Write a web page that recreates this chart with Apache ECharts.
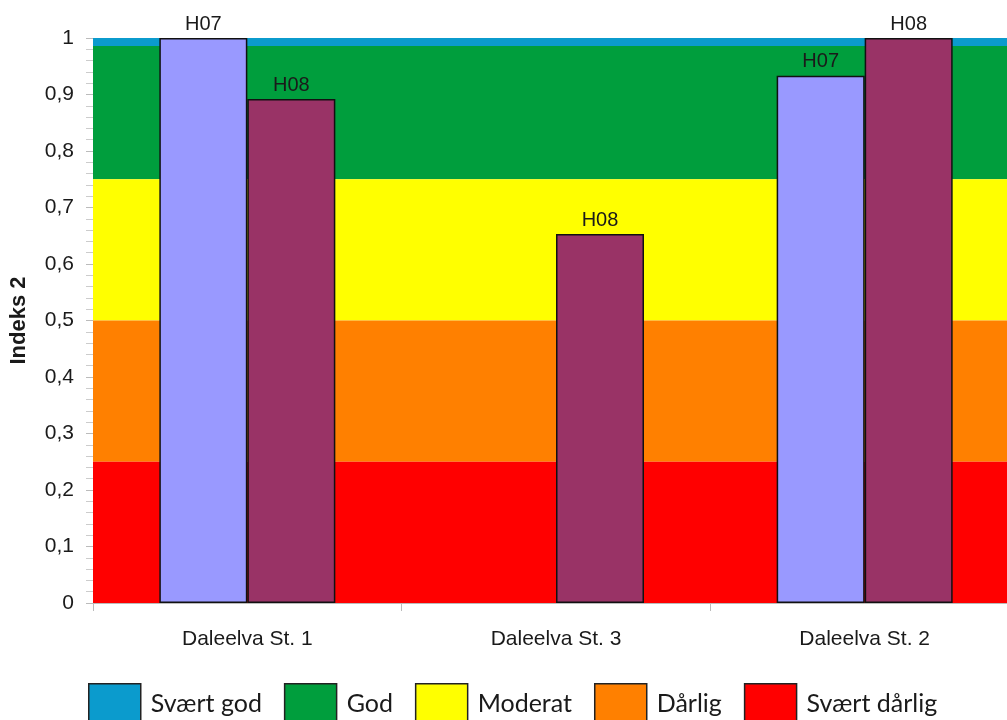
<!DOCTYPE html>
<html>
<head>
<meta charset="utf-8">
<script src="https://cdn.jsdelivr.net/npm/echarts@6/dist/echarts.min.js"></script>
<style>
html,body{margin:0;padding:0;background:#fff;overflow:hidden;}
#chart{width:1020px;height:720px;}
</style>
</head>
<body>
<div id="chart"></div>
<script>
// Data
const categories = ['Daleelva St. 1', 'Daleelva St. 3', 'Daleelva St. 2'];
const seriesNames = ['H07', 'H08'];
const h07Values = [1.0, null, 0.933];
const h08Values = [0.892, 0.653, 1.0];
const bandNames = ['Svært god', 'God', 'Moderat', 'Dårlig', 'Svært dårlig'];
const bandLower = [0.986, 0.75, 0.5, 0.25, 0];
const bandUpper = [1.0, 0.986, 0.75, 0.5, 0.25];
const yTickValues = [0, 0.1, 0.2, 0.3, 0.4, 0.5, 0.6, 0.7, 0.8, 0.9, 1];

// Styles
const bandColors = ['#0b9bcd', '#009e3d', '#ffff00', '#ff8000', '#ff0000'];
const barColors = ['#9999ff', '#993366'];
const chartFont = 'Liberation Sans';

const chart = echarts.init(document.getElementById('chart'), null, {renderer: 'canvas'});

const bandSeries = bandNames.map((name, i) => ({
  name: name,
  type: 'line',
  data: [],
  silent: true,
  z: 0,
  itemStyle: {color: bandColors[i]},
  markArea: {
    silent: true,
    itemStyle: {color: bandColors[i], opacity: 1},
    label: {show: false},
    data: [[{yAxis: bandLower[i]}, {yAxis: bandUpper[i]}]]
  }
}));

const barSeries = [h07Values, h08Values].map((vals, i) => ({
  name: seriesNames[i],
  type: 'bar',
  data: vals,
  barWidth: 88,
  barGap: '0%',
  z: 5,
  itemStyle: {color: barColors[i], borderColor: '#111', borderWidth: 1.5},
  label: {
    show: true,
    position: 'top',
    distance: 4,
    formatter: () => seriesNames[i],
    fontFamily: chartFont,
    fontSize: 20,
    color: '#1a1a1a'
  }
}));

chart.setOption({
  animation: false,
  backgroundColor: '#ffffff',
  textStyle: {fontFamily: chartFont},
  grid: {left: 92, top: 38, width: 927, height: 565, containLabel: false},
  legend: {
    left: 88,
    top: 683,
    padding: 0,
    itemWidth: 52,
    itemHeight: 40,
    itemGap: 22,
    selectedMode: false,
    textStyle: {fontFamily: 'Lato', fontSize: 25, color: '#1a1a1a', padding: [0, 0, 0, 5]},
    data: bandNames.map((n, i) => ({
      name: n,
      icon: 'rect',
      itemStyle: {color: bandColors[i], borderColor: '#222', borderWidth: 1.5}
    }))
  },
  xAxis: {
    type: 'category',
    data: categories,
    axisLine: {show: true, lineStyle: {color: '#bbbbbb', width: 1}},
    axisTick: {show: true, alignWithLabel: false, length: 8, lineStyle: {color: '#bbbbbb'}},
    axisLabel: {fontFamily: chartFont, fontSize: 21, color: '#1a1a1a', margin: 26},
    splitLine: {show: false},
    z: 10
  },
  yAxis: {
    type: 'value',
    min: 0,
    max: 1,
    interval: 0.1,
    name: 'Indeks 2',
    nameLocation: 'middle',
    nameRotate: 90,
    nameGap: 63,
    nameTextStyle: {fontFamily: chartFont, fontSize: 22, fontWeight: 'bold', color: '#1a1a1a'},
    axisLine: {show: false},
    axisTick: {show: true, inside: false, length: 7, lineStyle: {color: '#bbbbbb'}},
    minorTick: {show: true, splitNumber: 5, length: 7, lineStyle: {color: '#cccccc'}},
    splitLine: {show: false},
    axisLabel: {
      fontFamily: chartFont,
      fontSize: 21,
      color: '#1a1a1a',
      margin: 19,
      formatter: v => {
        const t = yTickValues.find(x => Math.abs(x - v) < 1e-9);
        const val = t === undefined ? v : t;
        return String(Math.round(val * 10) / 10).replace('.', ',');
      }
    }
  },
  series: bandSeries.concat(barSeries)
});
</script>
</body>
</html>
